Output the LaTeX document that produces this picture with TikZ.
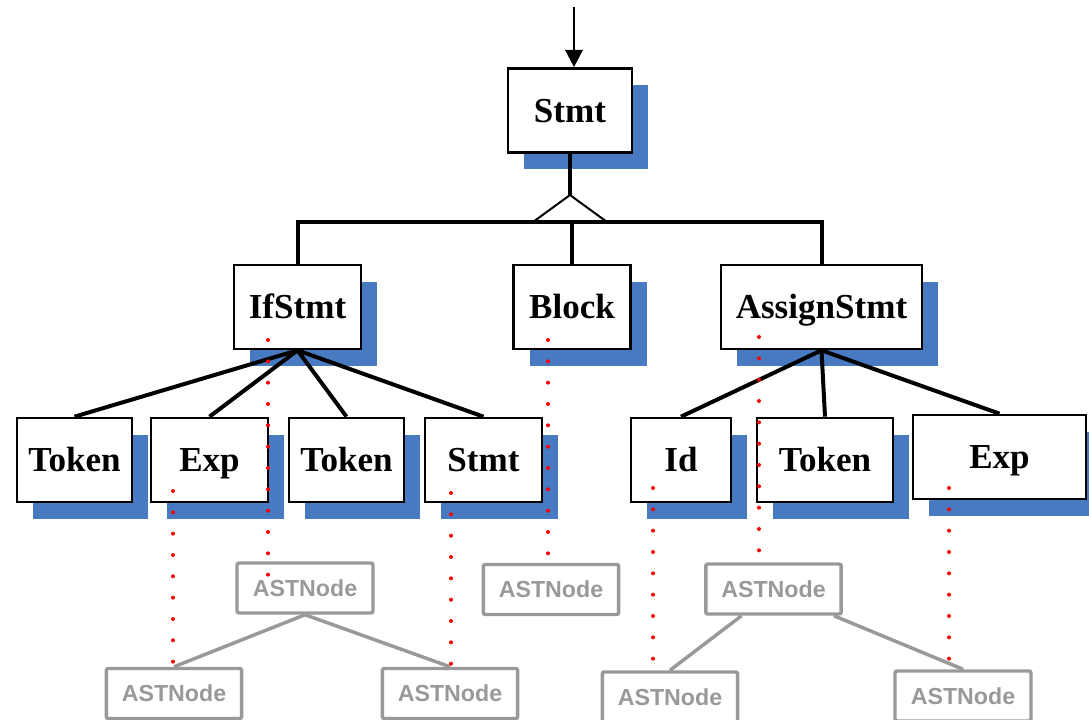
\documentclass[tikz,border=0pt]{standalone}
\usepackage{fontspec}
\setmainfont{Liberation Serif}
\newfontfamily\astfont{Liberation Sans}
\usetikzlibrary{shadows,calc,arrows.meta}
\definecolor{shadowblue}{RGB}{72,122,194}
\definecolor{astgray}{RGB}{153,153,153}
\definecolor{dotred}{RGB}{255,0,0}

\begin{document}
\begin{tikzpicture}[x=0.75pt,y=-0.75pt,
  cls/.style={draw=black, line width=2pt, fill=white, inner sep=0pt,
    font=\fontsize{26.3}{30}\selectfont\bfseries,
    text height=17.4pt, text depth=0pt, minimum height=63pt,
    general shadow={fill=shadowblue, shadow xshift=12pt, shadow yshift=-12.4pt}},
  ast/.style={draw=astgray, line width=2.6pt, rounded corners=1.5pt, inner sep=0pt,
    text=astgray, font=\fontsize{17.4}{20}\astfont\bfseries,
    text height=12.5pt, text depth=0pt, minimum width=101.5pt, minimum height=37.5pt},
  tree/.style={draw=black, line width=3pt},
  asttree/.style={draw=astgray, line width=2.6pt},
  reddots/.style={draw=dotred, line width=3pt, line cap=round, dash pattern=on 0pt off 16pt}
]
\useasboundingbox (0,0) rectangle (1089,720);

% class boxes
\node[cls, minimum width=93pt]     (stmt)   at (570,110.5) {Stmt};
\node[cls, minimum width=95.25pt]  (ifstmt) at (297.5,307) {IfStmt};
\node[cls, minimum width=87.75pt]  (block)  at (572,307)   {Block};
\node[cls, minimum width=150.75pt] (assign) at (821.5,307) {AssignStmt};
\node[cls, minimum width=86.25pt]  (token1) at (74.5,460)  {Token};
\node[cls, minimum width=87.75pt]  (exp1)   at (209.5,460) {Exp};
\node[cls, minimum width=86.25pt]  (token2) at (346.5,460) {Token};
\node[cls, minimum width=87.75pt]  (stmt2)  at (483.5,460) {Stmt};
\node[cls, minimum width=75pt]     (id)     at (681,460)   {Id};
\node[cls, minimum width=102pt]    (token3) at (825,460)   {Token};
\node[cls, minimum width=129.75pt] (exp2)   at (999.5,457) {Exp};

% entry arrow
\coordinate (entry) at (574,7);
\draw[line width=2pt, -{Triangle[length=13pt,width=13pt]}] (entry) -- (entry |- stmt.north);

% generalization triangle and bar
\coordinate (apex) at (570,195);
\coordinate (bar) at (570,222);
\draw[tree] (stmt.south) -- (apex);
\draw[line width=1.5pt] (533,222) -- (apex) -- (607,222);
\draw[tree] (ifstmt.north) -- (ifstmt.north |- bar) -- (assign.north |- bar) -- (assign.north);
\draw[tree] (block.north) -- (block.north |- bar);

% composition edges
\foreach \c in {token1,exp1,token2,stmt2}
  \draw[tree] (ifstmt.south) -- (\c.north);
\foreach \c in {id,token3,exp2}
  \draw[tree] (assign.south) -- (\c.north);

% AST nodes
\node[ast, minimum width=102pt] (a1) at (305,588)   {ASTNode};
\node[ast] (a2) at (174,693.5) {ASTNode};
\node[ast] (a3) at (450,693.5) {ASTNode};
\node[ast] (a4) at (551,589.5) {ASTNode};
\node[ast] (a5) at (773.5,589) {ASTNode};
\node[ast] (a6) at (670,697)   {ASTNode};
\node[ast, minimum width=102pt] (a7) at (963,696)   {ASTNode};

\draw[asttree] (a1.south) -- (a2.north);
\draw[asttree] (a1.south) -- (a3.north);
\draw[asttree] ($(a5.south west)!0.27!(a5.south east)$) -- (a6.north);
\draw[asttree] ($(a5.south west)!0.935!(a5.south east)$) -- (a7.north);

% instance links
\coordinate (d1s) at (268,340); \coordinate (d1e) at (268,575);
\coordinate (d2s) at (173,491); \coordinate (d2e) at (173,662);
\coordinate (d3s) at (451,493); \coordinate (d3e) at (451,664);
\coordinate (d4s) at (548,340); \coordinate (d4e) at (548,554);
\coordinate (d5s) at (759,337); \coordinate (d5e) at (759,551);
\coordinate (d6s) at (653,488); \coordinate (d6e) at (653,659);
\coordinate (d7s) at (949,488); \coordinate (d7e) at (949,659);
\foreach \i in {1,...,7}
  \draw[reddots] (d\i s) -- (d\i e);
\end{tikzpicture}
\end{document}
